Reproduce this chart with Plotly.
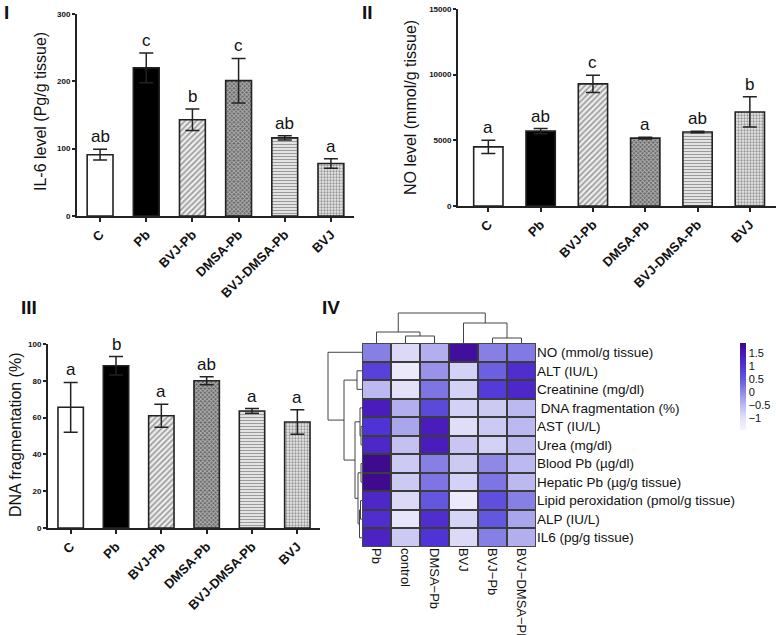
import plotly.graph_objects as go

W, H = 776, 635
FONT = "Liberation Sans, Arial, sans-serif"

# ---------------- data ----------------
groups = ["C", "Pb", "BVJ-Pb", "DMSA-Pb", "BVJ-DMSA-Pb", "BVJ"]

il6_mean = [91, 220, 143, 201, 116, 78]
il6_err = [8, 22, 16, 33, 3, 7]
il6_letters = ["ab", "c", "b", "c", "ab", "a"]

no_mean = [4500, 5700, 9300, 5170, 5630, 7160]
no_err = [500, 200, 650, 60, 60, 1150]
no_letters = ["a", "ab", "c", "a", "ab", "b"]

dna_mean = [65.6, 88.2, 61.0, 80.0, 63.6, 57.6]
dna_err = [13.5, 5.0, 6.3, 2.2, 1.3, 6.7]
dna_letters = ["a", "b", "a", "ab", "a", "a"]

hm_cols = ["Pb", "control", "DMSA\u2212Pb", "BVJ", "BVJ\u2212Pb", "BVJ\u2212DMSA\u2212Pb"]
hm_rows = ["NO (mmol/g tissue)", "ALT (IU/L)", "Creatinine (mg/dl)",
           " DNA fragmentation (%)", "AST (IU/L)", "Urea (mg/dl)",
           "Blood Pb (\u00b5g/dl)", "Hepatic Pb (\u00b5g/g tissue)",
           "Lipid peroxidation (pmol/g tissue)", "ALP (IU/L)", "IL6 (pg/g tissue)"]
hm_z = [
    [0.1, -0.9, -0.4, 1.7, 0.1, 0.15],
    [0.8, -1.2, -0.1, -0.8, 0.4, 1.1],
    [-0.5, -1.0, 0.2, -0.8, 0.9, 1.2],
    [1.4, -0.4, 0.7, -0.8, -0.7, -0.5],
    [1.0, -0.3, 1.4, -0.95, -0.7, -0.5],
    [1.2, -0.6, 1.4, -0.65, -0.8, -0.5],
    [1.8, -0.7, 0.1, -0.7, 0.0, -0.5],
    [1.8, -0.7, 0.2, -0.8, 0.2, -0.5],
    [1.2, -0.9, 0.5, -1.2, 0.6, 0.1],
    [1.1, -1.1, 1.1, -0.85, 0.5, -0.3],
    [1.3, -0.7, 1.0, -0.9, 0.1, -0.4],
]
# merges: (child a, child b, height); leaves are 0..n-1, new clusters n, n+1, ...
col_merges = [(1, 2, 7), (0, 6, 11), (4, 5, 5), (3, 8, 20), (7, 9, 30)]
row_merges = [(4, 5, 1), (3, 11, 2), (6, 7, 1), (8, 9, 1.5), (14, 10, 2.5),
              (13, 15, 4), (12, 16, 7), (1, 2, 5), (18, 17, 18), (0, 19, 34)]


def px_x(p):
    return min(max(p / W, 0), 1)


def px_y(p):
    return min(max(1 - p / H, 0), 1)


def dendro_lines(n, merges):
    pos = {i: float(i) for i in range(n)}
    hgt = {i: 0.0 for i in range(n)}
    xs, ys = [], []
    for k, (a, b, h) in enumerate(merges):
        xs += [pos[a], pos[a], pos[b], pos[b], None]
        ys += [hgt[a], h, h, hgt[b], None]
        pos[n + k] = (pos[a] + pos[b]) / 2
        hgt[n + k] = h
    return xs, ys


fig = go.Figure()

bar_line = dict(color="#222", width=1.6)
patterns = dict(
    shape=["", "", "/", "x", "-", "."],
    fgcolor=["#000", "#000", "#333", "#111", "#555", "#b5b5b5"],
    size=[8, 8, 4, 3, 3, 3],
    solidity=[0.2, 0.2, 0.4, 0.55, 0.45, 0.45],
    fillmode="overlay",
)
colors = ["#ffffff", "#000000", "#eeeeee", "#666666", "#f2f2f2", "#e8e8e8"]

panels = [
    ("x", "y", il6_mean, il6_err, il6_letters),
    ("x2", "y2", no_mean, no_err, no_letters),
    ("x3", "y3", dna_mean, dna_err, dna_letters),
]
for xa, ya, mean, err, letters in panels:
    fig.add_trace(go.Bar(
        x=list(range(len(groups))), y=mean, xaxis=xa, yaxis=ya, width=0.56,
        marker=dict(color=colors, line=bar_line, pattern=patterns),
        error_y=dict(type="data", array=err, color="#222", thickness=1.5, width=7),
        showlegend=False,
    ))
    for i, (m, e, t) in enumerate(zip(mean, err, letters)):
        fig.add_annotation(x=i, y=m + e, xref=xa, yref=ya, text=t, showarrow=False,
                           yanchor="bottom", yshift=1,
                           font=dict(family=FONT, size=17, color="#111"))

# heatmap
zmin, zmax = -1.45, 1.88
stops = [(-1.45, "#F5F4FC"), (-1.0, "#E3E1F8"), (-0.5, "#BCB9F0"), (0.0, "#8F89E6"),
         (0.5, "#6257DE"), (1.0, "#5033D4"), (1.5, "#4916B6"), (1.88, "#3B0885")]
cscale = [[(v - zmin) / (zmax - zmin), c] for v, c in stops]
fig.add_trace(go.Heatmap(
    z=hm_z, x=list(range(len(hm_cols))), y=list(range(len(hm_rows))),
    xaxis="x4", yaxis="y4", colorscale=cscale, zmin=zmin, zmax=zmax,
    xgap=2, ygap=2,
    colorbar=dict(x=px_x(740), xanchor="left", y=px_y(386.5), yanchor="middle",
                  len=87 / H, thickness=6, outlinewidth=0, ticks="",
                  tickvals=[1.5, 1, 0.5, 0, -0.5, -1],
                  ticktext=["1.5", "1", "0.5", "0", "\u22120.5", "\u22121"],
                  tickfont=dict(family=FONT, size=11, color="#111"), ypad=0, xpad=0),
))
fig.add_shape(type="rect", xref="x4", yref="y4", x0=-0.5, x1=5.5, y0=-0.5, y1=10.5,
              fillcolor="#3c3c3c", line=dict(color="#555", width=1), layer="below")

cx, cy = dendro_lines(len(hm_cols), col_merges)
fig.add_trace(go.Scatter(x=cx, y=cy, xaxis="x5", yaxis="y5", mode="lines",
                         line=dict(color="#444", width=1), showlegend=False, hoverinfo="skip"))
ry, rx = dendro_lines(len(hm_rows), row_merges)
fig.add_trace(go.Scatter(x=rx, y=ry, xaxis="x6", yaxis="y6", mode="lines",
                         line=dict(color="#444", width=1), showlegend=False, hoverinfo="skip"))

bar_x = dict(showline=True, linewidth=2, linecolor="#222", ticks="outside", ticklen=4,
             tickwidth=1.5, tickcolor="#222", tickangle=-45, showgrid=False, zeroline=False,
             tickvals=list(range(len(groups))), ticktext=groups, automargin=False,
             tickfont=dict(family=FONT, size=13, color="#111", weight="bold"))
bar_y = dict(showline=True, linewidth=2, linecolor="#222", ticks="outside", ticklen=3,
             tickwidth=1.5, tickcolor="#222", showgrid=False, zeroline=False,
             tickformat="d", automargin=False, ticklabeloverflow="allow",
             tickfont=dict(family=FONT, size=8, color="#111", weight="bold"))
hidden = dict(visible=False, showgrid=False, zeroline=False, automargin=False)

fig.update_layout(
    width=W, height=H, margin=dict(l=0, r=0, t=0, b=0, autoexpand=False),
    paper_bgcolor="white", plot_bgcolor="white", showlegend=False,
    xaxis=dict(bar_x, domain=[px_x(77), px_x(354)], range=[-0.5, 5.5], anchor="y"),
    yaxis=dict(bar_y, domain=[px_y(216), px_y(14)], range=[0, 300], tickvals=[0, 100, 200, 300], anchor="x"),
    xaxis2=dict(bar_x, domain=[px_x(458), px_x(776)], range=[-0.58, 5.5], anchor="y2"),
    yaxis2=dict(bar_y, domain=[px_y(206), px_y(9)], range=[0, 15000], tickvals=[0, 5000, 10000, 15000], anchor="x2"),
    xaxis3=dict(bar_x, domain=[px_x(48), px_x(320)], range=[-0.5, 5.5], anchor="y3"),
    yaxis3=dict(bar_y, domain=[px_y(528), px_y(344)], range=[0, 100], tickvals=[0, 20, 40, 60, 80, 100], anchor="x3"),
    xaxis4=dict(domain=[px_x(362), px_x(536)], range=[-0.5, 5.5], anchor="y4",
                tickvals=list(range(len(hm_cols))), ticktext=hm_cols, tickangle=90,
                showgrid=False, zeroline=False, showline=False, ticks="", automargin=False,
                tickfont=dict(family=FONT, size=13, color="#111")),
    yaxis4=dict(domain=[px_y(547), px_y(343)], range=[10.5, -0.5], anchor="x4", side="right",
                tickvals=list(range(len(hm_rows))), ticktext=hm_rows, automargin=False,
                showgrid=False, zeroline=False, showline=False, ticks="",
                tickfont=dict(family=FONT, size=13.5, color="#111")),
    xaxis5=dict(hidden, domain=[px_x(362), px_x(536)], range=[-0.5, 5.5], anchor="y5"),
    yaxis5=dict(hidden, domain=[px_y(343), px_y(311)], range=[0, 32], anchor="x5"),
    xaxis6=dict(hidden, domain=[px_x(326), px_x(362)], range=[36, 0], anchor="y6"),
    yaxis6=dict(hidden, domain=[px_y(547), px_y(343)], range=[10.5, -0.5], anchor="x6"),
)

# axis titles
titles = [("IL-6 level (Pg/g tissue)", 40, 112),
          ("NO level (mmol/g tissue)", 410, 108),
          ("DNA fragmentation (%)", 15, 435)]
for t, x, y in titles:
    fig.add_annotation(x=px_x(x), y=px_y(y), xref="paper", yref="paper", text=t,
                       textangle=-90, showarrow=False, xanchor="center", yanchor="middle",
                       font=dict(family=FONT, size=16, color="#111"))

# panel labels
for t, x, y in [("I", 6, 12), ("II", 367, 13), ("III", 29, 308), ("IV", 331, 308)]:
    fig.add_annotation(x=px_x(x), y=px_y(y), xref="paper", yref="paper", text=t,
                       showarrow=False, xanchor="center", yanchor="middle",
                       font=dict(family=FONT, size=19, color="#111", weight="bold"))

# drop the browser's default 8px body margin so the figure sits at the window corner
fig.write_html("out.html", config={"displayModeBar": False},
               post_script="document.body.style.margin = '0';")
